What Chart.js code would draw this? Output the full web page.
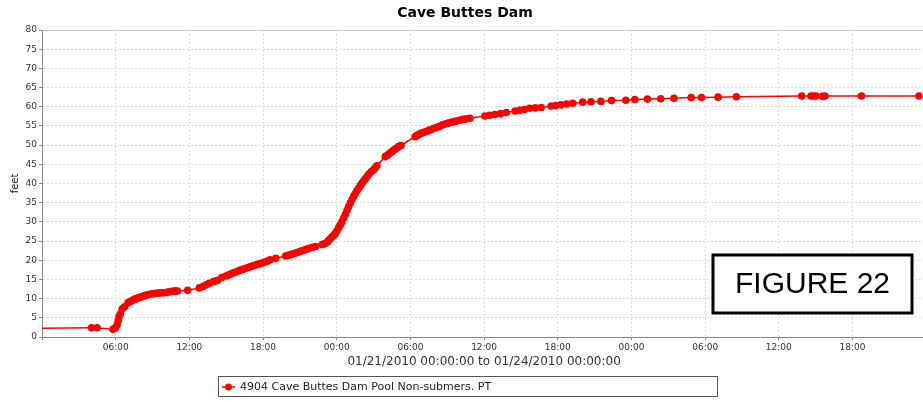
<!DOCTYPE html>
<html>
<head>
<meta charset="utf-8">
<title>Cave Buttes Dam</title>
<script src="https://cdn.jsdelivr.net/npm/chart.js@4.4.1/dist/chart.umd.min.js"></script>
<style>
    html, body { margin: 0; padding: 0; background: #fff; overflow: hidden; }
    #wrap { width: 930px; height: 402px; }
</style>
</head>
<body>
<div id="wrap"><canvas id="damChart" width="930" height="402"></canvas></div>
<script>
// Dados (horas desde 01/21/2010 00:00, nível em pés)
const seriesLabel = '4904 Cave Buttes Dam Pool Non-submers. PT';
const hours = [
    -2, 4.03, 4.48, 5.78, 5.96, 6.11, 6.20, 6.27, 6.38, 6.53, 6.73, 7.00, 7.11, 7.22, 7.40, 7.53,
    7.66, 7.80, 7.95, 8.09, 8.23, 8.36, 8.49, 8.68, 8.88, 9.09, 9.30, 9.50, 9.69, 9.90, 10.11,
    10.27, 10.42, 10.60, 10.78, 10.90, 11.03, 11.86, 12.81, 13.14, 13.38, 13.62, 13.95, 14.12,
    14.30, 14.64, 14.98, 15.13, 15.28, 15.46, 15.65, 15.85, 16.05, 16.24, 16.42, 16.60, 16.78,
    16.95, 17.13, 17.32, 17.51, 17.68, 17.84, 18.03, 18.22, 18.40, 18.57, 19.03, 19.84, 20.01,
    20.19, 20.42, 20.65, 20.84, 21.04, 21.25, 21.46, 21.65, 21.85, 22.06, 22.27, 22.81, 22.94,
    23.08, 23.22, 23.35, 23.48, 23.62, 23.76, 23.89, 24.02, 24.16, 24.28, 24.41, 24.56, 24.71,
    24.84, 24.97, 25.10, 25.24, 25.37, 25.50, 25.64, 25.79, 25.93, 26.07, 26.20, 26.33, 26.48,
    26.64, 26.82, 27.00, 27.14, 27.27, 27.95, 28.09, 28.22, 28.36, 28.50, 28.64, 28.78, 28.91,
    29.03, 29.23, 30.38, 30.51, 30.65, 30.81, 30.97, 31.15, 31.34, 31.53, 31.73, 31.92, 32.11,
    32.27, 32.43, 32.62, 32.81, 32.98, 33.16, 33.35, 33.53, 33.71, 33.89, 34.10, 34.30, 34.57,
    34.84, 36.06, 36.45, 36.87, 37.34, 37.81, 38.52, 38.90, 39.28, 39.71, 40.18, 40.65, 41.46,
    41.84, 42.27, 42.73, 43.22, 44.03, 44.70, 45.51, 46.38, 47.54, 48.27, 49.30, 50.38, 51.46,
    52.86, 53.70, 55.05, 56.54, 61.86, 62.62, 62.84, 63.03, 63.57, 63.76, 66.73, 71.41
];
const feet = [
    2.2, 2.4, 2.4, 2.0, 2.3, 3.1, 4.2, 5.3, 6.0, 7.3, 7.9, 8.9, 9.1, 9.3, 9.6, 9.8,
    10.0, 10.15, 10.3, 10.45, 10.6, 10.75, 10.9, 11.05, 11.2, 11.3, 11.4, 11.45, 11.5, 11.55, 11.6,
    11.7, 11.8, 11.9, 12.0, 12.0, 12.0, 12.2, 12.8, 13.2, 13.6, 14.0, 14.4, 14.6,
    14.8, 15.5, 15.9, 16.1, 16.3, 16.55, 16.8, 17.0, 17.3, 17.5, 17.7, 17.9, 18.1,
    18.3, 18.5, 18.7, 18.9, 19.05, 19.2, 19.4, 19.6, 19.85, 20.1, 20.5, 21.1, 21.25,
    21.4, 21.65, 21.9, 22.1, 22.3, 22.55, 22.8, 23.0, 23.2, 23.4, 23.6, 24.1, 24.25,
    24.4, 24.7, 25.2, 25.6, 26.1, 26.5, 27.0, 27.7, 28.5, 29.2, 30.0, 31.0, 32.0,
    33.0, 34.0, 34.9, 35.8, 36.6, 37.3, 38.1, 38.8, 39.5, 40.1, 40.7, 41.2, 41.9,
    42.5, 43.1, 43.6, 44.1, 44.6, 47.0, 47.3, 47.6, 48.0, 48.3, 48.7, 49.0, 49.3,
    49.6, 49.9, 52.2, 52.5, 52.7, 53.0, 53.2, 53.4, 53.6, 53.9, 54.1, 54.4, 54.6,
    54.8, 55.0, 55.3, 55.5, 55.65, 55.8, 55.95, 56.1, 56.25, 56.4, 56.55, 56.7, 56.85,
    57.0, 57.6, 57.8, 58.0, 58.2, 58.5, 58.9, 59.1, 59.3, 59.6, 59.7, 59.8, 60.2,
    60.3, 60.5, 60.7, 60.9, 61.2, 61.3, 61.4, 61.6, 61.7, 61.9, 62.0, 62.1, 62.2,
    62.4, 62.4, 62.5, 62.6, 62.8, 62.8, 62.8, 62.8, 62.7, 62.8, 62.8, 62.8
];
const xTitle = '01/21/2010 00:00:00 to 01/24/2010 00:00:00';
const figureLabel = 'FIGURE 22';

const points = hours.map((h, i) => ({ x: h, y: feet[i] }));

// Legenda em caixa (estilo JFreeChart) + quadro "FIGURE 22"
const extrasPlugin = {
    id: 'extras',
    afterDraw(chart) {
        const ctx = chart.ctx;
        const area = chart.chartArea;
        ctx.save();
        // linha superior da área do gráfico
        ctx.strokeStyle = '#c8c8c8';
        ctx.lineWidth = 1;
        ctx.beginPath();
        ctx.moveTo(area.left, area.top + 0.5);
        ctx.lineTo(area.right, area.top + 0.5);
        ctx.stroke();

        // caixa da legenda
        ctx.strokeStyle = '#555';
        ctx.strokeRect(218.5, 376.5, 499, 20);
        ctx.strokeStyle = '#ff0000';
        ctx.lineWidth = 1.5;
        ctx.beginPath();
        ctx.moveTo(222, 387);
        ctx.lineTo(235, 387);
        ctx.stroke();
        ctx.fillStyle = '#ff0000';
        ctx.beginPath();
        ctx.arc(228.5, 387, 3.5, 0, Math.PI * 2);
        ctx.fill();
        ctx.fillStyle = '#222';
        ctx.font = "11px 'DejaVu Sans'";
        ctx.textAlign = 'left';
        ctx.textBaseline = 'middle';
        ctx.fillText(chart.data.datasets[0].label, 240, 387);

        // quadro da figura
        ctx.fillStyle = '#fff';
        ctx.fillRect(713, 255, 199, 58);
        ctx.strokeStyle = '#000';
        ctx.lineWidth = 3;
        ctx.strokeRect(713, 255, 199, 58);
        ctx.fillStyle = '#000';
        ctx.font = "30px 'Liberation Sans'";
        ctx.textAlign = 'center';
        ctx.textBaseline = 'middle';
        ctx.fillText(figureLabel, 812.5, 285);
        ctx.restore();
    }
};

const gridStyle = { color: '#dcdcdc', tickColor: '#888', tickLength: 3 };
const tickFont = { family: "'DejaVu Sans'", size: 9 };

new Chart(document.getElementById('damChart'), {
    type: 'line',
    data: {
        datasets: [{
            label: seriesLabel,
            data: points,
            borderColor: '#ff0000',
            backgroundColor: '#ff0000',
            borderWidth: 1.5,
            pointRadius: 3.8,
            pointBorderWidth: 0,
            pointHoverRadius: 3.8,
            tension: 0
        }]
    },
    options: {
        responsive: false,
        animation: false,
        layout: { padding: 0 },
        plugins: {
            legend: { display: false },
            tooltip: { enabled: false },
            title: {
                display: true,
                text: 'Cave Buttes Dam',
                color: '#000',
                font: { family: "'DejaVu Sans'", size: 14, weight: 'bold' },
                padding: { top: 5, bottom: 8.2 }
            }
        },
        scales: {
            x: {
                type: 'linear',
                min: 0,
                max: 72,
                grid: gridStyle,
                border: { color: '#888', dash: [2, 2] },
                ticks: {
                    stepSize: 6,
                    autoSkip: false,
                    maxRotation: 0,
                    padding: 2,
                    color: '#333',
                    font: tickFont,
                    callback: (v) => (v <= 0 || v >= 72) ? '' : String(v % 24).padStart(2, '0') + ':00'
                },
                title: {
                    display: true,
                    text: xTitle,
                    color: '#333',
                    font: { family: "'DejaVu Sans'", size: 12 },
                    padding: { top: 2, bottom: 33 }
                },
                afterFit: (s) => { s.height = 65; }
            },
            y: {
                min: 0,
                max: 80,
                grid: gridStyle,
                border: { color: '#888', dash: [2, 2] },
                ticks: { stepSize: 5, padding: 2, color: '#333', font: tickFont },
                title: {
                    display: true,
                    text: 'feet',
                    color: '#222',
                    font: { family: "'DejaVu Sans'", size: 10 },
                    padding: { top: 9, bottom: 0 }
                },
                afterFit: (s) => { s.width = 42; }
            }
        }
    },
    plugins: [extrasPlugin]
});
</script>
</body>
</html>
